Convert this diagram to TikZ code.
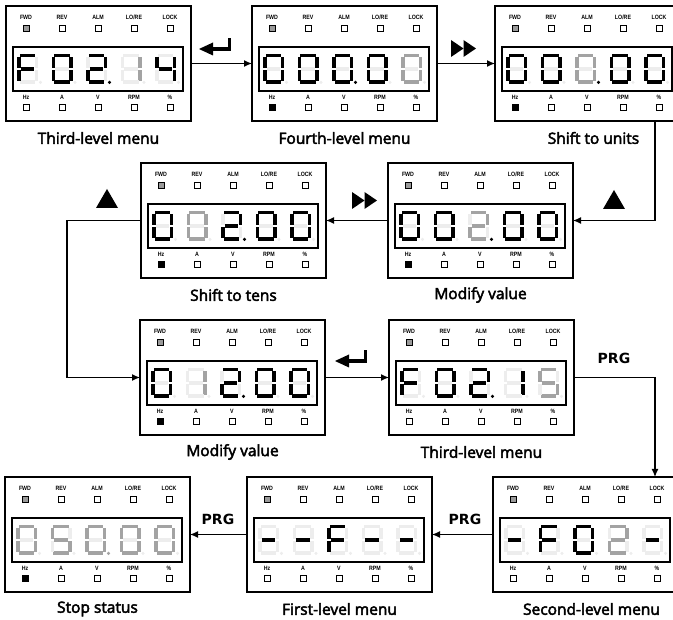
\documentclass[tikz,border=0pt]{standalone}
\usepackage{fontspec}
\setmainfont{Open Sans}
\newfontfamily\capfont{Open Sans}[FakeBold=3]
\newfontfamily\ledfont{Liberation Sans}[FakeStretch=0.85]
\newfontfamily\prgfont{DejaVu Sans}
\usetikzlibrary{arrows.meta}

\definecolor{s0}{HTML}{EDEDED}
\definecolor{s1}{HTML}{000000}
\definecolor{s2}{HTML}{A3A3A3}
\definecolor{fwdgray}{HTML}{9A9A9A}

\tikzset{
  panelbox/.style={draw=black, line width=2pt, minimum width=185pt, minimum height=115pt, inner sep=0pt, outer sep=0pt},
  dispbox/.style={draw=black, line width=1.2pt},
  ledsq/.style={draw=black, line width=0.9pt, minimum size=6pt, inner sep=0pt, outer sep=0pt},
  ledtxt/.style={font=\ledfont\bfseries\fontsize{6.2}{7}\selectfont, inner sep=0pt},
  captxt/.style={font=\capfont\fontsize{15.5}{18}\selectfont, inner sep=0pt},
  prgtxt/.style={font=\prgfont\bfseries\fontsize{14}{16}\selectfont, inner sep=0pt},
  conn/.style={draw=black, line width=1.2pt, -{Latex[length=8pt,width=7pt]}},
  sym/.style={fill=black},
}

\def\digparse#1#2#3#4#5#6#7#8{%
  \fill[s#1] (2.6,0) rectangle (18.4,3.5);
  \fill[s#2] (17.5,2.6) rectangle (21,14.2);
  \fill[s#3] (17.5,15.8) rectangle (21,27.4);
  \fill[s#4] (2.6,26.5) rectangle (18.4,30);
  \fill[s#5] (0,15.8) rectangle (3.5,27.4);
  \fill[s#6] (0,2.6) rectangle (3.5,14.2);
  \fill[s#7] (3.6,13.25) rectangle (17.4,16.75);
  \fill[s#8] (23.5,28.4) circle (1.7);
}
\newcommand\dig[3]{\begin{scope}[shift={(#1,#2)}]\digparse#3\end{scope}}
\newcommand\digits[7]{%
  \begin{scope}[shift={(#1+11,#2+48)}]
   \dig{0}{0}{#3}\dig{34.5}{0}{#4}\dig{69}{0}{#5}\dig{103.5}{0}{#6}\dig{138}{0}{#7}
  \end{scope}}

\newcommand\panelbase[6]{%
  \node[panelbox] (#1) at (#2+92.5,#3+57.5) {};
  \begin{scope}[shift={(#2,#3)}]
    \draw[dispbox] (7,41) rectangle (177,85);
    \node[ledtxt] (#1-t0) at (20,11) {FWD};
    \node[ledsq, fill=fwdgray] (#1-l0) at (20,22.5) {};
    \foreach \t [count=\i from 1] in {REV,ALM,LO/RE,LOCK} {
      \node[ledtxt] (#1-t\i) at (20+36*\i,11) {\t};
      \node[ledsq, fill=white] (#1-l\i) at (20+36*\i,22.5) {};
    }
    \node[ledtxt] (#1-b0) at (20,91) {Hz};
    \node[ledsq, fill=#5] (#1-m0) at (20,101.5) {};
    \foreach \t [count=\i from 1] in {A,V,RPM,\%} {
      \node[ledtxt] (#1-b\i) at (20+36*\i,91) {\t};
      \node[ledsq, fill=white] (#1-m\i) at (20+36*\i,101.5) {};
    }
  \end{scope}
  \node[captxt] (#1-cap) at (#2+92.5+#6,#3+132) {#4};
}

\newcommand\enter[2]{%
  \fill[sym] (#1,#2) -- (#1+14,#2-6.5) -- (#1+14,#2+6.5) -- cycle;
  \fill[sym] (#1+13,#2-1.8) rectangle (#1+32,#2+1.8);
  \fill[sym] (#1+28.5,#2-11) rectangle (#1+32,#2+1.8);}
\newcommand\ffwd[2]{%
  \fill[sym] (#1,#2-8.5) -- (#1+12.5,#2) -- (#1,#2+8.5) -- cycle;
  \fill[sym] (#1+12.5,#2-8.5) -- (#1+25,#2) -- (#1+12.5,#2+8.5) -- cycle;}
\newcommand\uptri[2]{%
  \fill[sym] (#1,#2) -- (#1+22,#2) -- (#1+11,#2-19) -- cycle;}

\begin{document}
\begin{tikzpicture}[x=1pt,y=-1pt]
\useasboundingbox (0,0) rectangle (673,620);
\clip (0,0) rectangle (673,620);

\panelbase{A}{6}{6}{Third-level menu}{white}{0}
\digits{6}{6}{10001110}{11111100}{11011011}{02200000}{01100110}

\panelbase{B}{252}{6}{Fourth-level menu}{black}{0}
\digits{252}{6}{11111100}{11111100}{11111101}{11111100}{22222200}

\panelbase{C}{495}{6}{Shift to units}{black}{6}
\digits{495}{6}{11111100}{11111100}{22222201}{11111100}{11111100}

\panelbase{D}{141}{163}{Shift to tens}{black}{0}
\digits{141}{163}{11111100}{22222200}{11011011}{11111100}{11111100}

\panelbase{E}{388}{163}{Modify value}{black}{0}
\digits{388}{163}{11111100}{11111100}{22022021}{11111100}{11111100}

\panelbase{F}{140}{320}{Modify value}{black}{0}
\digits{140}{320}{11111100}{02200000}{11011011}{11111100}{11111100}

\panelbase{G}{389}{320}{Third-level menu}{white}{0}
\digits{389}{320}{10001110}{11111100}{11011011}{01100000}{20220220}

\panelbase{H}{5}{477}{Stop status}{black}{0}
\digits{5}{477}{22222200}{20220220}{22222202}{22222200}{22222200}

\panelbase{I}{247}{477}{First-level menu}{white}{0}
\digits{247}{477}{00000010}{00000010}{10001110}{00000010}{00000010}

\panelbase{J}{493}{477}{Second-level menu}{white}{6}
\digits{493}{477}{00000010}{10001110}{11111100}{22022020}{00000010}

\coordinate (cx) at (655,0);
\coordinate (lx) at (67,0);

\draw[conn] (A.east) -- (B.west);
\draw[conn] (B.east) -- (C.west);
\draw[conn] (C.south -| cx) |- (E.east);
\draw[conn] (E.west) -- (D.east);
\draw[conn] (D.west) -- (D.west -| lx) |- (F.west);
\draw[conn] (F.east) -- (G.west);
\draw[conn] (G.east) -| (J.north -| cx);
\draw[conn] (J.west) -- (I.east);
\draw[conn] (I.west) -- (H.east);

\enter{199}{49}
\enter{335}{361}
\ffwd{451}{48.5}
\ffwd{352}{200.5}
\uptri{96}{208}
\uptri{603}{209}

\node[prgtxt] (p1) at (614,358) {PRG};
\node[prgtxt] (p2) at (465,519) {PRG};
\node[prgtxt] (p3) at (218,519) {PRG};
\end{tikzpicture}
\end{document}
